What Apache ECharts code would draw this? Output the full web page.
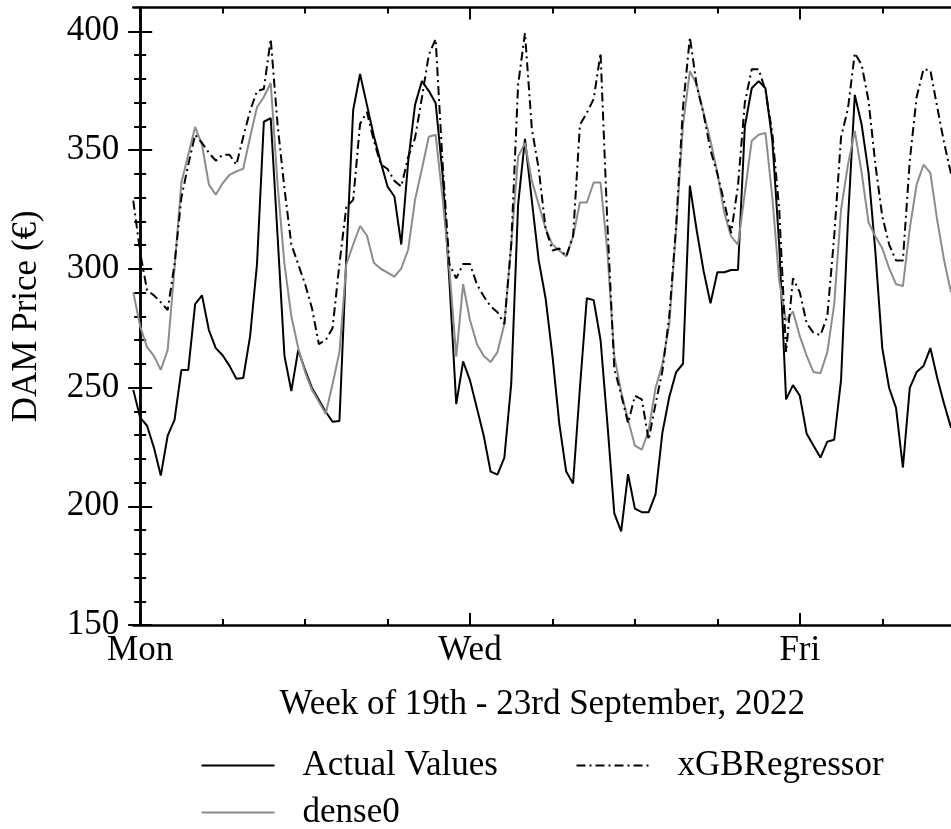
<!DOCTYPE html>
<html><head><meta charset="utf-8">
<script src="https://cdn.jsdelivr.net/npm/echarts@6/dist/echarts.min.js"></script>
<style>html,body{margin:0;padding:0;background:#fff}#c{width:951px;height:829px}</style>
</head><body><div id="c"></div><script>
// Hour offsets from Monday 00:00 (one sample per hour)
const firstHour = -1;
const hourCount = 120;
const hours = Array.from({length: hourCount}, (_, i) => firstHour + i);

const actualValues = [
  249.0, 237.3, 233.9, 224.7, 212.9, 229.7, 236.4, 257.4, 257.4, 285.1, 288.8, 274.2, 266.6, 263.6, 259.1, 253.7, 254.0, 271.6, 301.9, 361.9, 363.4, 313.6, 263.3, 248.5, 265.8,
  257.4, 249.8, 244.8, 239.8, 235.6, 235.9, 305, 366.9, 382, 369, 356, 345, 334.6, 330.4, 310.2, 345, 369, 379, 374.9, 369.8, 340, 295,
  243, 261, 253, 241.4, 229.7, 214.6, 213.3, 220.5, 251.5, 327, 354.7, 328.7, 303.5, 287.6, 263.3, 234.7, 214.6, 209.6, 250, 287.6, 286.8, 270, 234.7, 197, 189.4, 213.5,
  199, 197.5, 197.5, 205, 231, 246, 256.5, 260, 335, 316, 299, 285.5, 298.5, 298.5, 299.5, 299.5, 360, 376, 379, 376, 354, 310, 245, 251,
  246.5, 230.5, 225.5, 220.5, 227.2, 228, 253.2, 320, 373.2, 360.6, 340.5, 306.9, 266.6, 249.8, 241.4, 216.3, 249.8, 256.5, 259.1, 266.6, 254, 243.1, 233.1
];
const dense0Values = [
  290.1, 275.8, 267.0, 263.3, 257.4, 265.8, 300.2, 336.3, 348, 359.7, 352.2, 335.4, 331.2, 336, 339.5, 341, 342.1, 355.5, 368, 372.3, 378.2, 335.4, 301.9, 280.0, 266.6,
  256.5, 249.0, 244.0, 238.9, 251.5, 264.9, 301.9, 310.2, 318, 314, 302.5, 300, 298.4, 296.7, 300.2, 308, 329, 342, 355.6, 356.4, 330, 300,
  263, 293.5, 278.4, 268.3, 263.3, 260.7, 264.9, 276.7, 310.2, 347.2, 353, 337.1, 327, 317, 310.2, 307.7, 305.2, 313.6, 327.9, 327.9, 336.3, 336.3, 306.9, 263.3, 248.2, 236.4,
  225.5, 223.8, 232, 249.8, 259.9, 276.7, 317, 360.6, 383.2, 377.4, 365.6, 353.9, 340.4, 323.7, 313.6, 310.2, 332, 353.9, 356.4, 357.2, 330, 295, 278, 282,
  271.6, 263.3, 256.5, 256, 264.9, 285, 325, 343.8, 358, 340.4, 319.5, 313.6, 308.6, 300.2, 293.5, 292.7, 317, 335.4, 343.8, 340.4, 320.3, 303.5, 290.1
];
const xgbValues = [
  328.7, 306.9, 290.9, 288.8, 285.9, 282.6, 301.9, 330, 343.8, 356.4, 353.0, 348.8, 345.5, 348.0, 348.0, 343.8, 355.5, 366.5, 374.8, 375.7, 396.7, 360.6, 333.7, 310.2, 301.9,
  293.5, 283.4, 268.3, 270.0, 275, 302, 326, 329, 361, 366, 354, 344, 342, 337, 334.6, 347, 355, 372, 390, 396.7, 345, 302,
  296, 302, 302, 293.5, 288.4, 284.2, 281.7, 276.7, 310.2, 377.4, 399.2, 358.9, 342.1, 317, 307.7, 308.5, 305.2, 313.6, 360.6, 365.6, 371.5, 390.8, 318.6, 258, 247, 235,
  246.5, 245, 228, 243, 257, 280, 318, 368, 397.5, 377, 365, 350, 340, 328, 315, 335, 370, 384, 384, 375, 357, 325, 265, 296,
  290, 277, 273, 272, 280, 313.6, 355.5, 367.3, 390.8, 385.8, 370.7, 343.8, 322, 310.2, 303.5, 303.5, 345.5, 372.3, 384, 383.5, 368, 353, 340
];

const seriesNames = ['Actual Values', 'dense0', 'xGBRegressor'];
const dayTicks = [0, 48, 96];
const dayLabels = ['Mon', 'Wed', 'Fri'];
const halfDayTicks = [12, 24, 36, 60, 72, 84, 108];
const yMajorTicks = [150, 200, 250, 300, 350, 400];
const yMinorTicks = [160, 170, 180, 190, 210, 220, 230, 240, 260, 270, 280, 290, 310, 320, 330, 340, 360, 370, 380, 390];
const xTitle = 'Week of 19th - 23rd September, 2022';
const yTitle = 'DAM Price (\u20AC)';

const FONT = '"Liberation Serif", "DejaVu Serif", serif';
const FS = 35;
const X_MIN = -1, X_MAX = 118, Y_MIN = 150, Y_MAX = 410;

function xAx(pos, ticks, len, withLine, extra) {
  return Object.assign({
    type: 'value', position: pos, min: X_MIN, max: X_MAX,
    axisLine: {show: withLine, lineStyle: {color: '#000', width: 2.5}},
    axisTick: {show: true, inside: true, length: len, customValues: ticks, lineStyle: {color: '#000', width: 2}},
    axisLabel: {show: false},
    splitLine: {show: false}
  }, extra || {});
}
function yAx(pos, ticks, len, withLine, extra) {
  return Object.assign({
    type: 'value', position: pos, min: Y_MIN, max: Y_MAX,
    axisLine: {show: withLine, lineStyle: {color: '#000', width: 2.5}},
    axisTick: {show: true, inside: true, length: len, customValues: ticks, lineStyle: {color: '#000', width: 2}},
    axisLabel: {show: false},
    splitLine: {show: false}
  }, extra || {});
}

const chart = echarts.init(document.getElementById('c'), null, {renderer: 'canvas'});
const legendBase = {
  orient: 'horizontal', itemWidth: 73, itemHeight: 14, selectedMode: false, padding: 0,
  itemStyle: {opacity: 0, borderWidth: 0},
  textStyle: {fontFamily: FONT, fontSize: FS, color: '#000', padding: [0, 0, 0, 23]}
};
chart.setOption({
  animation: false,
  backgroundColor: '#fff',
  grid: {left: 133.3, top: 7.5, width: 820.3, height: 617.5, containLabel: false},
  legend: [
    Object.assign({}, legendBase, {data: [seriesNames[0]], left: 200.5, top: 748}),
    Object.assign({}, legendBase, {data: [seriesNames[2]], left: 575.5, top: 748}),
    Object.assign({}, legendBase, {data: [seriesNames[1]], left: 200.5, top: 795})
  ],
  xAxis: [
    xAx('bottom', dayTicks, 12, true, {
      axisLabel: {show: true, customValues: dayTicks, margin: 8, fontFamily: FONT, fontSize: FS, color: '#000',
        formatter: v => dayLabels[dayTicks.indexOf(v)] || ''},
      name: xTitle, nameLocation: 'middle', nameGap: 62,
      nameTextStyle: {fontFamily: FONT, fontSize: FS, color: '#000'}
    }),
    xAx('bottom', halfDayTicks, 6, false),
    xAx('top', dayTicks, 12, true),
    xAx('top', halfDayTicks, 6, false)
  ],
  yAxis: [
    yAx('left', yMajorTicks, 12, true, {
      axisLabel: {show: true, customValues: yMajorTicks, margin: 14, fontFamily: FONT, fontSize: FS, color: '#000'},
      name: yTitle, nameLocation: 'middle', nameGap: 89, nameRotate: 90,
      nameTextStyle: {fontFamily: FONT, fontSize: FS, color: '#000'}
    }),
    yAx('left', yMinorTicks, 6, false),
    yAx('right', yMajorTicks, 12, true),
    yAx('right', yMinorTicks, 6, false)
  ],
  series: [
    {name: seriesNames[0], type: 'line', xAxisIndex: 0, yAxisIndex: 0, symbol: 'none', showSymbol: false,
      data: hours.map((h, i) => [h, actualValues[i]]),
      lineStyle: {color: '#000', width: 2}, itemStyle: {color: '#000'}, z: 2},
    {name: seriesNames[1], type: 'line', xAxisIndex: 0, yAxisIndex: 0, symbol: 'none', showSymbol: false,
      data: hours.map((h, i) => [h, dense0Values[i]]),
      lineStyle: {color: '#8c8c8c', width: 2}, itemStyle: {color: '#8c8c8c'}, z: 3},
    {name: seriesNames[2], type: 'line', xAxisIndex: 0, yAxisIndex: 0, symbol: 'none', showSymbol: false,
      data: hours.map((h, i) => [h, xgbValues[i]]),
      lineStyle: {color: '#000', width: 2, type: [9, 4, 2, 4]}, itemStyle: {color: '#000'}, z: 4}
  ]
});
</script></body></html>
